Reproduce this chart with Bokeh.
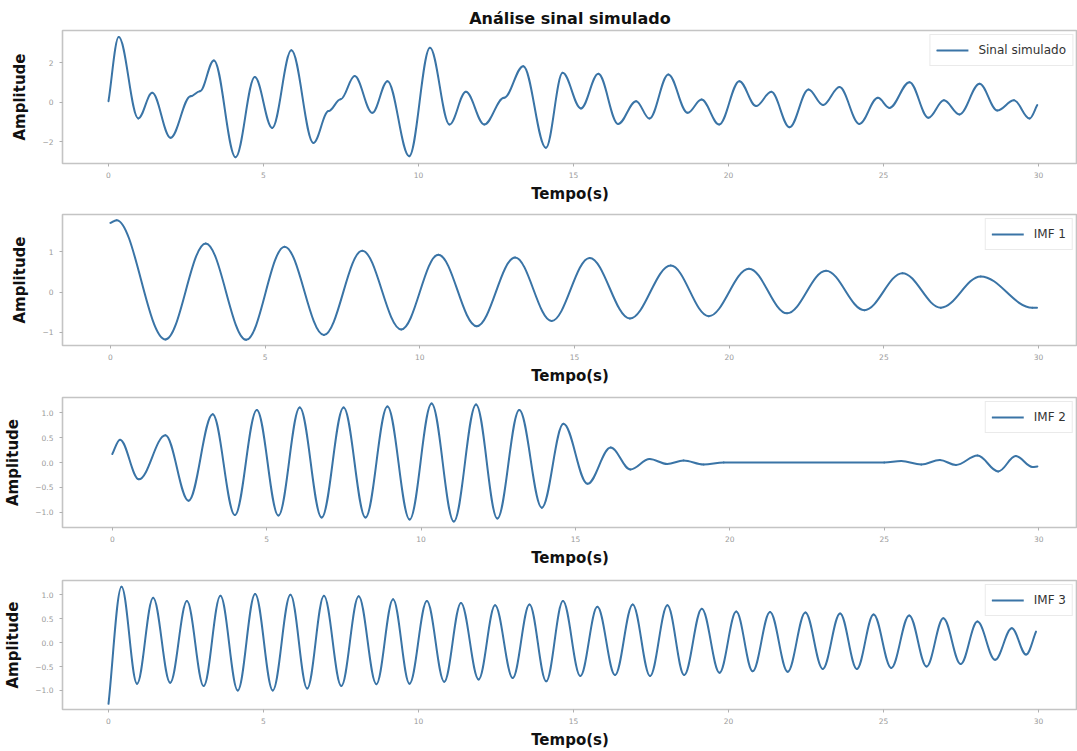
from bokeh.plotting import figure
from bokeh.layouts import column
from bokeh.models import FixedTicker, Range1d, ColumnDataSource
from bokeh.embed import file_html
from bokeh.resources import INLINE

# ---------------- data (extrema of each curve) ----------------
sig_t = [0.0, 0.33, 0.96, 1.41, 2.0, 2.65, 2.95, 3.4, 4.1, 4.72, 5.28, 5.9, 6.61, 7.1, 7.49,
         7.94, 8.51, 9.0, 9.7, 10.37, 11.0, 11.53, 12.12, 12.76, 13.38, 14.11, 14.65, 15.24,
         15.8, 16.44, 17.02, 17.45, 18.06, 18.68, 19.13, 19.7, 20.35, 20.89, 21.38, 21.97,
         22.58, 23.05, 23.58, 24.22, 24.82, 25.19, 25.84, 26.45, 26.95, 27.45, 28.1, 28.67,
         29.21, 29.71, 29.96]
sig_v = [0.05, 3.29, -0.82, 0.47, -1.8, 0.3, 0.55, 2.11, -2.78, 1.27, -1.3, 2.62, -2.06, -0.45, 0.15,
         1.32, -0.54, 1.06, -2.73, 2.75, -1.13, 0.52, -1.13, 0.22, 1.82, -2.31, 1.48, -0.32,
         1.43, -1.1, 0.05, -0.83, 1.4, -0.54, 0.13, -1.13, 1.06, -0.2, 0.52, -1.27,
         0.64, -0.15, 0.76, -1.1, 0.22, -0.29, 1.01, -0.79, 0.09, -0.62, 0.93, -0.42,
         0.09, -0.83, -0.15]

imf1_t = [0.0, 0.2, 1.78, 3.08, 4.39, 5.63, 6.9, 8.14, 9.4, 10.6, 11.84, 13.08, 14.26, 15.49,
          16.79, 18.11, 19.34, 20.64, 21.87, 23.13, 24.37, 25.6, 26.84, 28.13, 29.8, 29.95]
imf1_v = [1.72, 1.79, -1.18, 1.21, -1.19, 1.13, -1.07, 1.03, -0.93, 0.93, -0.85, 0.86, -0.72, 0.85,
          -0.66, 0.66, -0.6, 0.58, -0.53, 0.53, -0.45, 0.47, -0.39, 0.39, -0.39, -0.39]

imf2_t = [0.0, 0.25, 0.86, 1.72, 2.47, 3.25, 3.97, 4.68, 5.38, 6.07, 6.78, 7.49, 8.2, 8.91, 9.63,
          10.34, 11.06, 11.78, 12.47, 13.18, 13.91, 14.61, 15.39, 16.14, 16.78, 17.4, 17.97,
          18.5, 19.15, 19.8, 25.0, 25.55, 26.2, 26.8, 27.32, 28.02, 28.69, 29.26, 29.8, 29.96]
imf2_v = [0.17, 0.46, -0.34, 0.55, -0.77, 0.97, -1.06, 1.06, -1.07, 1.11, -1.11, 1.11, -1.11, 1.13, -1.15,
          1.19, -1.19, 1.17, -1.13, 1.06, -0.91, 0.78, -0.43, 0.3, -0.14, 0.07, -0.03,
          0.04, -0.04, 0.0, 0.0, 0.03, -0.04, 0.05, -0.05, 0.14, -0.18, 0.13, -0.09, -0.08]

imf3_t = [0.0, 0.42, 0.92, 1.44, 1.99, 2.53, 3.07, 3.61, 4.17, 4.73, 5.3, 5.87, 6.41, 6.95, 7.51,
          8.07, 8.64, 9.18, 9.71, 10.27, 10.83, 11.37, 11.94, 12.47, 13.04, 13.58, 14.12, 14.66,
          15.22, 15.77, 16.34, 16.91, 17.47, 18.03, 18.57, 19.14, 19.71, 20.25, 20.78, 21.34,
          21.91, 22.48, 23.04, 23.6, 24.14, 24.68, 25.25, 25.83, 26.39, 26.93, 27.49, 28.03,
          28.6, 29.14, 29.6, 29.92]
imf3_v = [-1.28, 1.17, -0.86, 0.94, -0.84, 0.87, -0.91, 0.98, -1.0, 1.02, -1.0, 1.0, -0.96, 0.98, -0.91,
          0.97, -0.87, 0.91, -0.86, 0.87, -0.82, 0.83, -0.77, 0.78, -0.74, 0.8, -0.81, 0.87,
          -0.7, 0.75, -0.68, 0.8, -0.7, 0.78, -0.68, 0.71, -0.63, 0.65, -0.6, 0.64,
          -0.61, 0.63, -0.55, 0.61, -0.55, 0.59, -0.53, 0.57, -0.5, 0.51, -0.45, 0.44,
          -0.36, 0.3, -0.25, 0.23]

x_ticks = [0, 5, 10, 15, 20, 25, 30]
y_ticks_1 = [-2, 0, 2]
y_ticks_2 = [-1, 0, 1]
y_ticks_34 = [-1.0, -0.5, 0.0, 0.5, 1.0]

series_labels = ["Sinal simulado", "IMF 1", "IMF 2", "IMF 3"]
main_title = "Análise sinal simulado"
x_label = "Tempo(s)"
y_label = "Amplitude"

LINE_COLOR = "#3a74a6"
FONT = "DejaVu Sans"


def bezier_source(ts, vs, k=0.36):
    """Smooth half-wave segments between consecutive extrema (horizontal tangents at extrema)."""
    n = len(ts)
    d = dict(x0=[], y0=[], x1=[], y1=[], cx0=[], cy0=[], cx1=[], cy1=[])
    for i in range(n - 1):
        t0, v0, t1, v1 = ts[i], vs[i], ts[i + 1], vs[i + 1]
        dt = t1 - t0
        if i == 0:
            c0 = (t0 + dt / 3.0, v0 + (v1 - v0) / 3.0)
        else:
            c0 = (t0 + dt * k, v0)
        if i == n - 2:
            c1 = (t1 - dt / 3.0, v1 - (v1 - v0) / 3.0)
        else:
            c1 = (t1 - dt * k, v1)
        d["x0"].append(t0); d["y0"].append(v0)
        d["x1"].append(t1); d["y1"].append(v1)
        d["cx0"].append(c0[0]); d["cy0"].append(c0[1])
        d["cx1"].append(c1[0]); d["cy1"].append(c1[1])
    return ColumnDataSource(d)


def make_panel(ts, vs, label, yticks, ylabels, yr, top, frame_h, bottom, left, title=None):
    x_per_unit = 31.0
    xs = (left - 108) / x_per_unit
    xe = (1077 - 108) / x_per_unit
    p = figure(width=1077, height=top + frame_h + bottom,
               x_range=Range1d(xs, xe), y_range=Range1d(*yr),
               output_backend="svg", toolbar_location=None,
               min_border_left=left, min_border_right=0,
               min_border_top=top, min_border_bottom=bottom)
    if title:
        p.title.text = title
        p.title.align = "center"
        p.title.text_font = FONT
        p.title.text_font_size = "16px"
        p.title.text_font_style = "bold"
        p.title.text_color = "#111111"
        p.title.offset = 0
        p.title.standoff = 6
    p.grid.visible = False
    p.background_fill_color = "white"
    p.border_fill_color = "white"
    p.outline_line_color = "#c4c4c4"
    p.outline_line_width = 1.6

    for ax in (p.xaxis[0], p.yaxis[0]):
        ax.axis_line_color = None
        ax.major_tick_line_color = "#b0b0b0"
        ax.major_tick_out = 3
        ax.major_tick_in = 0
        ax.minor_tick_line_color = None
        ax.major_label_text_font = FONT
        ax.major_label_text_font_size = "7.5px"
        ax.major_label_text_color = "#9a9a9a"
        ax.axis_label_text_font = FONT
        ax.axis_label_text_font_style = "bold"
        ax.axis_label_text_font_size = "15px"
        ax.axis_label_text_color = "#111111"

    p.xaxis[0].ticker = FixedTicker(ticks=x_ticks)
    p.xaxis[0].major_label_overrides = {t: str(t) for t in x_ticks}
    p.xaxis[0].major_label_standoff = 5
    p.xaxis[0].axis_label = x_label
    p.xaxis[0].axis_label_standoff = 4

    p.yaxis[0].ticker = FixedTicker(ticks=yticks)
    p.yaxis[0].major_label_overrides = dict(zip(yticks, ylabels))
    p.yaxis[0].major_label_standoff = 6
    p.yaxis[0].axis_label = y_label
    p.yaxis[0].axis_label_standoff = 10

    src = bezier_source(ts, vs)
    p.bezier(x0="x0", y0="y0", x1="x1", y1="y1", cx0="cx0", cy0="cy0", cx1="cx1", cy1="cy1",
             source=src, line_color=LINE_COLOR, line_width=2.0, line_cap="round",
             legend_label=label)

    lg = p.legend[0]
    lg.location = "top_right"
    lg.margin = 4
    lg.padding = 6
    lg.spacing = 0
    lg.glyph_width = 32
    lg.glyph_height = 18
    lg.label_text_font = FONT
    lg.label_text_font_size = "12px"
    lg.label_text_color = "#333333"
    lg.label_standoff = 10
    lg.border_line_color = "#d6d6d6"
    lg.border_line_width = 1
    lg.background_fill_alpha = 0.9
    return p


def minus(v, fmt):
    s = fmt.format(abs(v))
    return ("\u2212" + s) if v < 0 else s


p1 = make_panel(sig_t, sig_v, series_labels[0], y_ticks_1, [minus(v, "{:.0f}") for v in y_ticks_1],
                (-3.1, 3.62), 30, 133, 42, 62, title=main_title)
p2 = make_panel(imf1_t, imf1_v, series_labels[1], y_ticks_2, [minus(v, "{:.0f}") for v in y_ticks_2],
                (-1.33, 1.93), 9, 131, 43, 60)
p3 = make_panel(imf2_t, imf2_v, series_labels[2], y_ticks_34, [minus(v, "{:.1f}") for v in y_ticks_34],
                (-1.31, 1.31), 9, 130, 44, 58)
p4 = make_panel(imf3_t, imf3_v, series_labels[3], y_ticks_34, [minus(v, "{:.1f}") for v in y_ticks_34],
                (-1.40, 1.30), 9, 131, 40, 62)

layout = column(p1, p2, p3, p4, spacing=0)
open("out.html", "w").write(file_html(layout, INLINE))
